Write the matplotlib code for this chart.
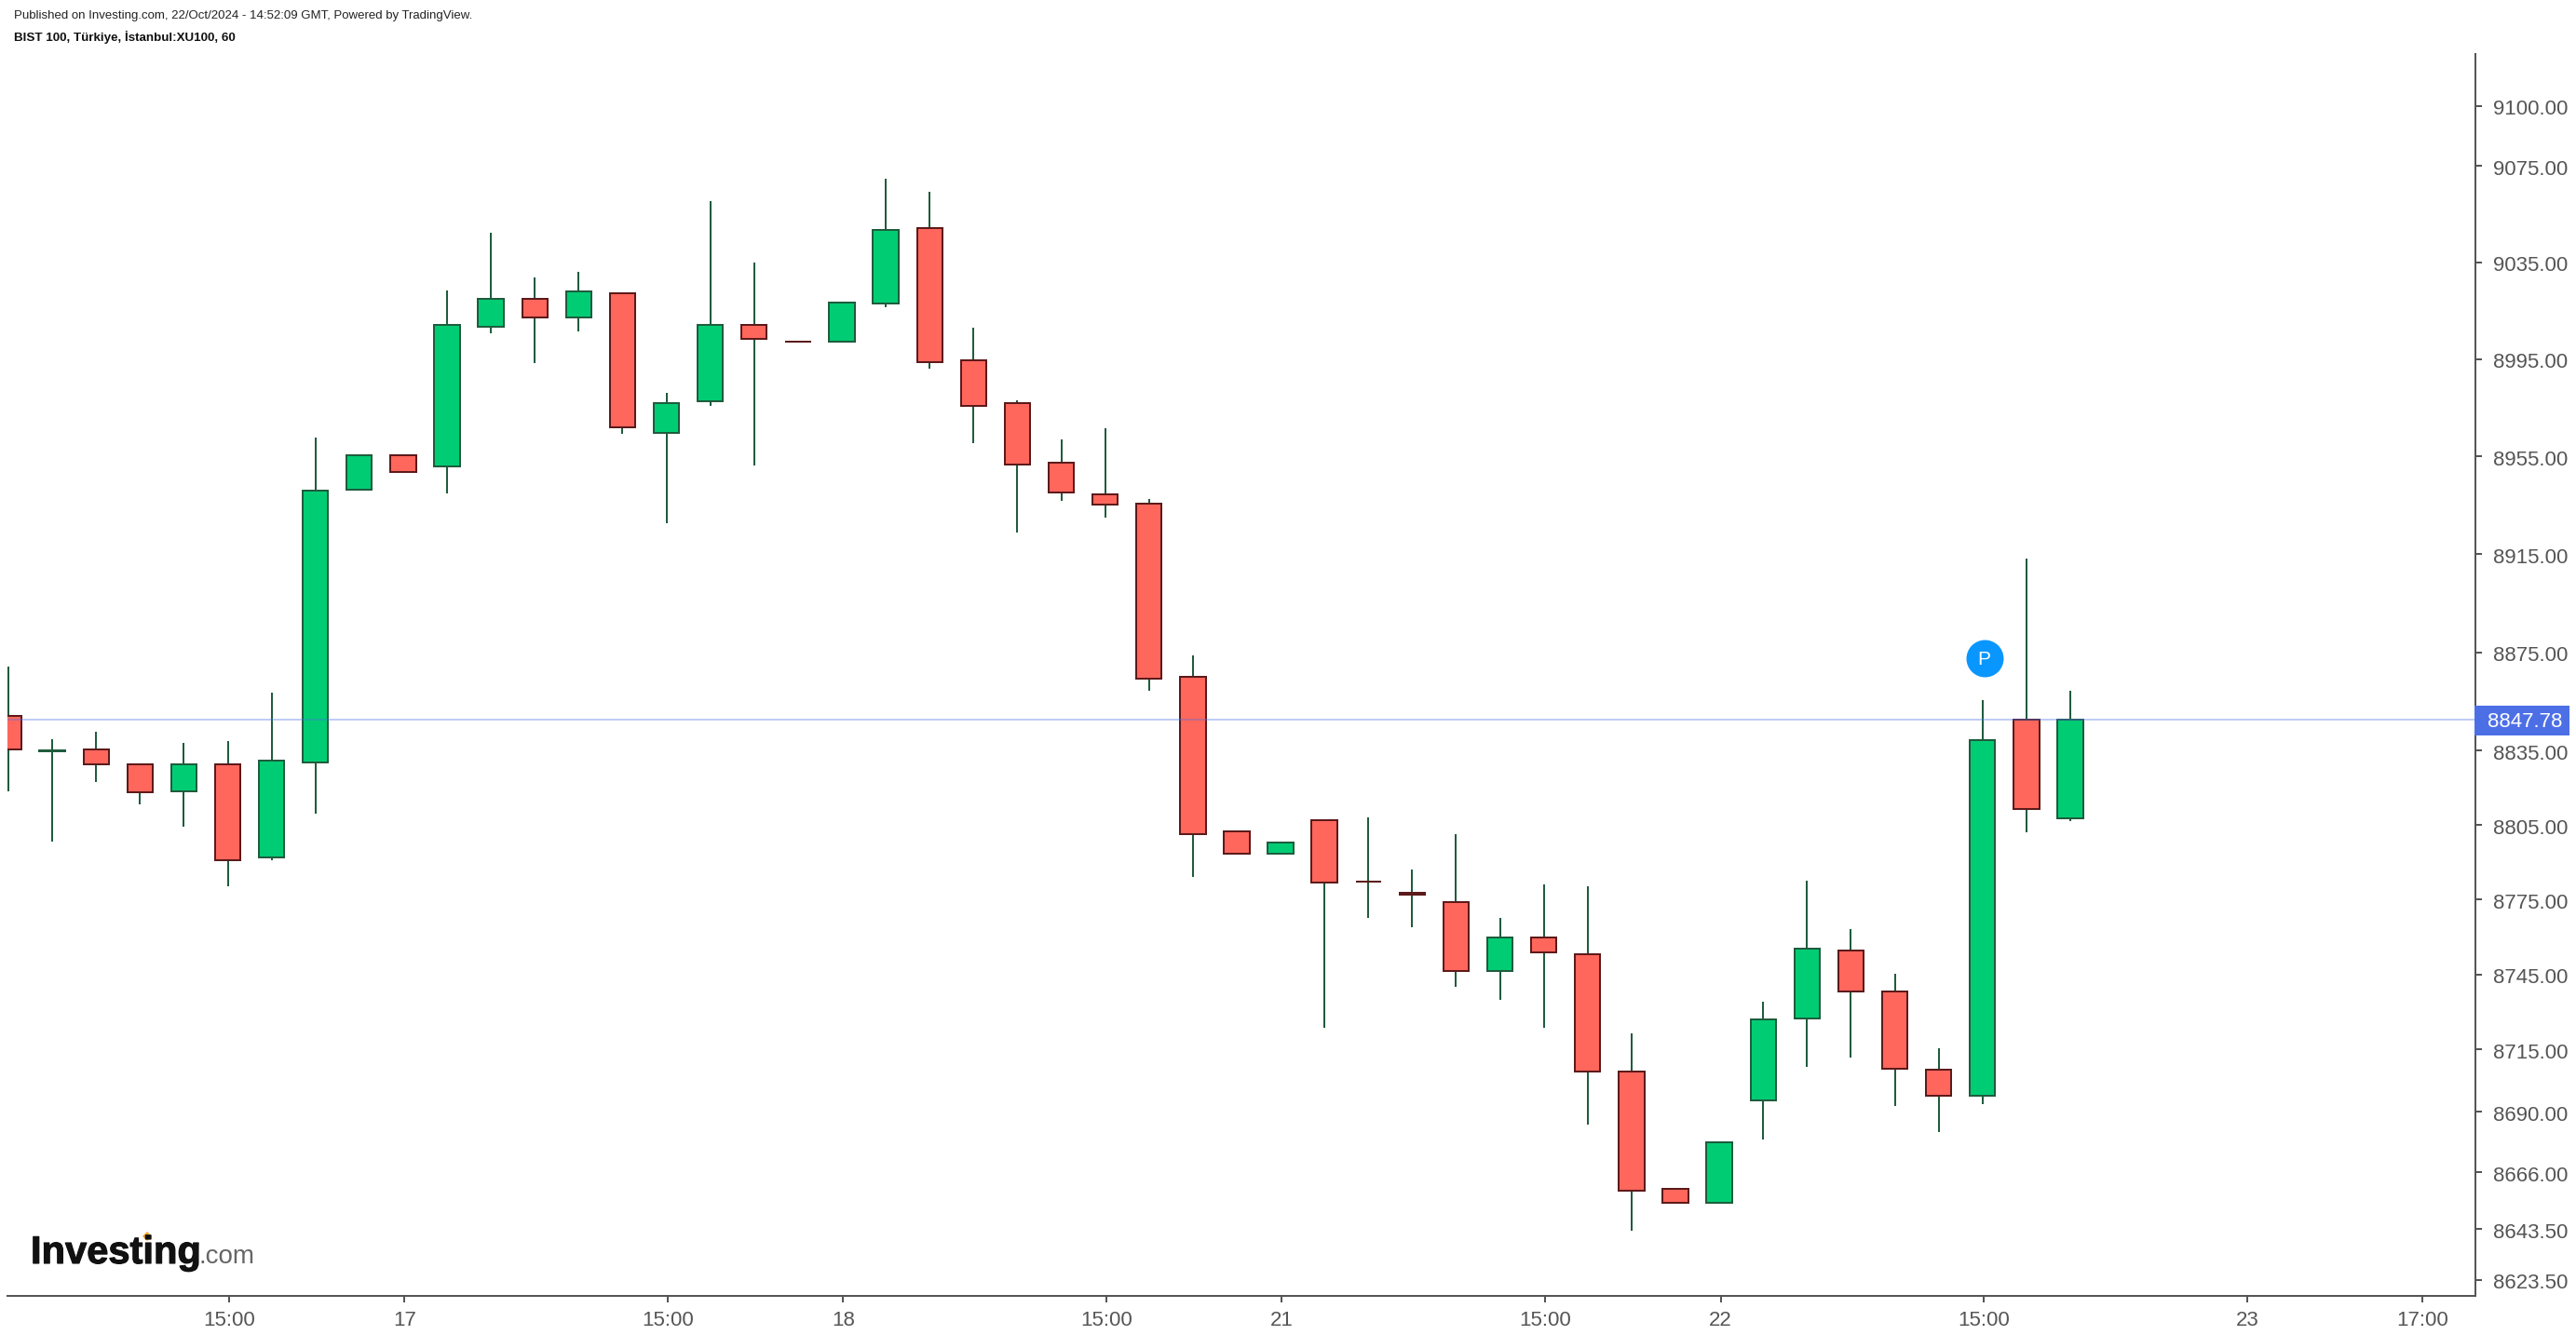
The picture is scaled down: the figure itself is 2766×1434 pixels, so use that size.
"""BIST 100 hourly candles, Investing.com / TradingView export look."""
import matplotlib
matplotlib.use("Agg")
import matplotlib.patheffects as pe
import matplotlib.pyplot as plt
from matplotlib.patches import Rectangle
from matplotlib.ticker import FixedFormatter, FixedLocator, NullLocator
from matplotlib.transforms import ScaledTranslation
import numpy as np

opens = [8849.2, 8834.9, 8835.6, 8829.6, 8818.8, 8829.6, 8791.8, 8830.1, 8941.5, 8955.5, 8950.7, 9008.2,
         9019.9, 9012.0, 9022.2, 8964.5, 8977.5, 9009.2, 9002.1, 9002.0, 9018.1, 9049.2, 8994.6, 8976.9,
         8952.5, 8939.5, 8935.7, 8865.1, 8802.5, 8793.3, 8807.0, 8782.2, 8777.7, 8774.0, 8746.2, 8759.8,
         8753.1, 8706.2, 8659.5, 8654.1, 8694.8, 8727.5, 8754.6, 8738.2, 8707.0, 8696.5, 8847.78, 8807.7]
closes = [8835.5, 8835.3, 8829.4, 8818.1, 8829.6, 8791.0, 8831.1, 8941.0, 8955.5, 8948.4, 9009.2, 9019.9,
          9012.0, 9023.0, 8966.8, 8976.9, 9009.2, 9003.5, 9002.1, 9018.4, 9048.4, 8993.6, 8975.9, 8951.5,
          8940.0, 8935.4, 8864.1, 8801.5, 8793.3, 8798.0, 8782.0, 8782.2, 8776.9, 8746.2, 8759.8, 8753.6,
          8706.0, 8658.6, 8654.1, 8678.0, 8727.0, 8755.4, 8738.0, 8707.4, 8696.3, 8839.4, 8811.5, 8847.78]
highs = [8869.1, 8839.7, 8842.7, 8829.6, 8838.1, 8838.9, 8858.5, 8962.7, 8955.5, 8955.5, 9023.3, 9047.2,
         9028.7, 9031.0, 9022.2, 8981.0, 9060.3, 9034.8, 9002.1, 9018.4, 9069.6, 9064.2, 9007.9, 8978.0,
         8961.9, 8966.5, 8937.5, 8873.7, 8802.5, 8798.0, 8807.0, 8808.0, 8787.0, 8801.3, 8767.6, 8781.0,
         8780.3, 8721.3, 8659.5, 8678.0, 8734.0, 8782.5, 8763.1, 8745.2, 8715.4, 8855.5, 8913.1, 8859.3]
lows = [8818.6, 8798.3, 8822.3, 8813.3, 8804.3, 8780.3, 8790.8, 8809.5, 8941.5, 8948.4, 8939.8, 9005.6,
        8993.3, 9006.3, 8964.2, 8927.6, 8975.7, 8951.2, 9002.1, 9002.0, 9016.3, 8991.0, 8960.4, 8923.8,
        8936.7, 8929.8, 8859.3, 8784.0, 8793.3, 8793.3, 8723.6, 8767.6, 8763.8, 8739.9, 8734.7, 8723.6,
        8685.0, 8642.8, 8654.1, 8654.1, 8679.0, 8707.9, 8711.6, 8692.4, 8682.0, 8693.1, 8802.0, 8806.5]

price_ticks = [9100.00, 9075.00, 9035.00, 8995.00, 8955.00, 8915.00, 8875.00, 8835.00,
               8805.00, 8775.00, 8745.00, 8715.00, 8690.00, 8666.00, 8643.50, 8623.50]
time_ticks = [5.03, 9.03, 15.03, 19.03, 25.03, 29.03, 35.03, 39.03, 45.03, 51.03, 55.03]
time_labels = ["15:00", "17", "15:00", "18", "15:00", "21", "15:00", "22", "15:00", "23", "17:00"]
last_price = 8847.78
pivot_bar, pivot_price = 45.04, 8872.6

W, H = 2766, 1434
UP, UP_EDGE, WICK = "#00cc74", "#1f5c3d", "#1f5c3d"
DOWN, DOWN_EDGE = "#ff665c", "#5c1a1a"
AXIS = "#555555"
PX = 72 / 100  # points per pixel at dpi 100

plt.rcParams["font.family"] = "Liberation Sans"

fig = plt.figure(figsize=(W / 100, H / 100), dpi=100, facecolor="white")
ax = fig.add_axes([8 / W, 1 - 1391.7 / H, (2657.5 - 8) / W, (1391.7 - 58) / H])

x = np.arange(len(opens))
o, c, hi, lo = map(np.array, (opens, closes, highs, lows))
is_up = c > o

ax.set_yscale("log")
ax.vlines(x, lo, hi, color=WICK, lw=2 * PX, capstyle="butt", zorder=2)
for mask, fill, edge in [(is_up, UP, UP_EDGE), (~is_up, DOWN, DOWN_EDGE)]:
    ax.bar(x[mask], np.abs(c - o)[mask], bottom=np.minimum(o, c)[mask], width=0.58,
           color=fill, edgecolor=edge, linewidth=2 * PX, zorder=3)

ax.axhline(last_price, color="#4d6fe6", alpha=0.35, lw=2 * PX, zorder=4)

ax.set_xlim(-0.021, 56.225)
ax.set_ylim(8617.2, 9121.6)

ax.yaxis.set_major_locator(FixedLocator(price_ticks))
ax.yaxis.set_major_formatter(FixedFormatter([f"{p:.2f}" for p in price_ticks]))
ax.yaxis.set_minor_locator(NullLocator())
ax.yaxis.tick_right()
ax.set_xticks(time_ticks)
ax.set_xticklabels(time_labels)
ax.tick_params(axis="y", length=7 * PX, width=2 * PX, color=AXIS, labelcolor=AXIS, labelsize=16, pad=9)
ax.tick_params(axis="x", length=7 * PX, width=2 * PX, color=AXIS, labelcolor=AXIS, labelsize=16, pad=7)

# price labels sit a touch under their ticks
nudge = ScaledTranslation(0, -1.5 / 100, fig.dpi_scale_trans)
for tick in ax.yaxis.get_major_ticks():
    tick.label2.set_transform(tick.label2.get_transform() + nudge)

for side in ("top", "left"):
    ax.spines[side].set_visible(False)
for side in ("right", "bottom"):
    ax.spines[side].set_color(AXIS)
    ax.spines[side].set_linewidth(2 * PX)

# last price tag on the scale
ytop, ybot = 758, 790
fig.add_artist(Rectangle((2657 / W, 1 - ybot / H), (2759 - 2657) / W, (ybot - ytop) / H,
                         transform=fig.transFigure, facecolor="#4d6fe6", edgecolor="none", zorder=5))
fig.text(2671 / W, 1 - 775 / H, f"{last_price:.2f}", color="white", fontsize=16,
         ha="left", va="center", zorder=6)

# pivot badge above the 15:00 bar
ax.scatter([pivot_bar], [pivot_price], s=(40 * PX) ** 2, color="#0a96ff", zorder=5, linewidths=0)
ax.text(pivot_bar, pivot_price, "P", color="white", fontsize=15, ha="center", va="center_baseline", zorder=6)

# header
fig.text(15 / W, 1 - 17 / H, "Published on Investing.com, 22/Oct/2024 - 14:52:09 GMT, Powered by TradingView.",
         color="#222222", fontsize=9.5, ha="left", va="center")
fig.text(15 / W, 1 - 40 / H, "BIST 100, Türkiye, İstanbul:XU100, 60",
         color="#111111", fontsize=9.6, fontweight="bold", ha="left", va="center")

# watermark
fig.text(33 / W, 1 - 1357 / H, "Investing", color="#111111", fontsize=30, fontweight="bold",
         ha="left", va="baseline", path_effects=[pe.withStroke(linewidth=0.8, foreground="#111111")])
fig.text(214 / W, 1 - 1357 / H, ".com", color="#666666", fontsize=20, ha="left", va="baseline")
fig.add_artist(plt.Line2D([158 / W], [1 - 1328 / H], marker="D", markersize=5, color="#f5a623",
                          markeredgewidth=0, linestyle="none", transform=fig.transFigure))

fig.savefig("out.png", dpi=100)
plt.close(fig)
